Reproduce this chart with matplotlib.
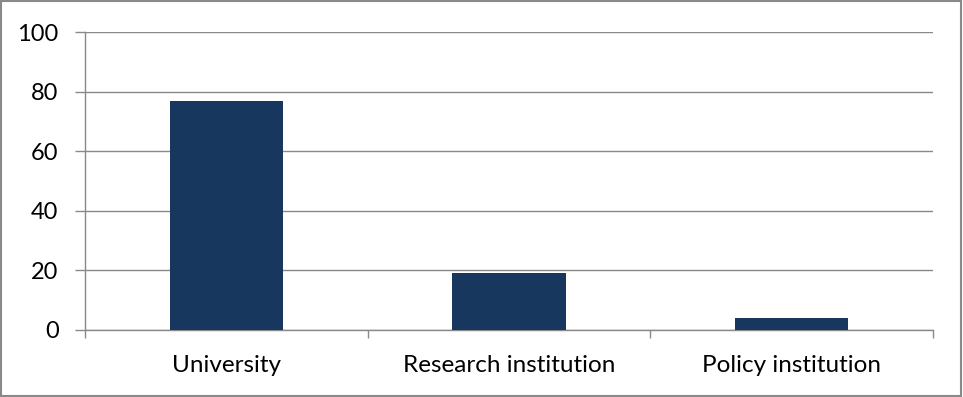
import matplotlib
matplotlib.use("Agg")
import matplotlib.pyplot as plt
from matplotlib.patches import Rectangle

categories = ["University", "Research institution", "Policy institution"]
values = [77, 19, 4]
y_ticks = [0, 20, 40, 60, 80, 100]

plt.rcParams['font.family'] = ['Lato', 'DejaVu Sans']

fig = plt.figure(figsize=(9.63, 3.97), dpi=100)
ax = fig.add_axes([85 / 963, 67 / 397, 848 / 963, 298 / 397])

grid_col = "#898989"
x = list(range(len(categories)))
ax.bar(x, values, width=0.4, color="#18375E", zorder=3)

ax.set_xlim(-0.5, len(categories) - 0.5)
ax.set_ylim(0, 100)
ax.set_yticks(y_ticks)
ax.set_yticklabels([str(t) for t in y_ticks], fontsize=17)
ax.yaxis.grid(True, color=grid_col, linewidth=1)
ax.set_axisbelow(True)

# category labels at centers, tick marks at the boundaries
ax.set_xticks(x)
ax.set_xticklabels(categories, fontsize=17.5)
ax.tick_params(axis='x', length=0, pad=18)
ax.set_xticks([i - 0.5 for i in range(len(categories) + 1)], minor=True)
ax.tick_params(axis='x', which='minor', length=6, width=1, color=grid_col, direction='out')
ax.tick_params(axis='y', length=7, width=1, color=grid_col, pad=12)

for side in ["top", "right"]:
    ax.spines[side].set_visible(False)
for side in ["left", "bottom"]:
    ax.spines[side].set_color(grid_col)
    ax.spines[side].set_linewidth(1)

fig.patches.append(Rectangle((0.001, 0.002), 0.997, 0.995, transform=fig.transFigure,
                             fill=False, edgecolor="#898989", linewidth=1.5))

fig.savefig("out.png", dpi=100)
